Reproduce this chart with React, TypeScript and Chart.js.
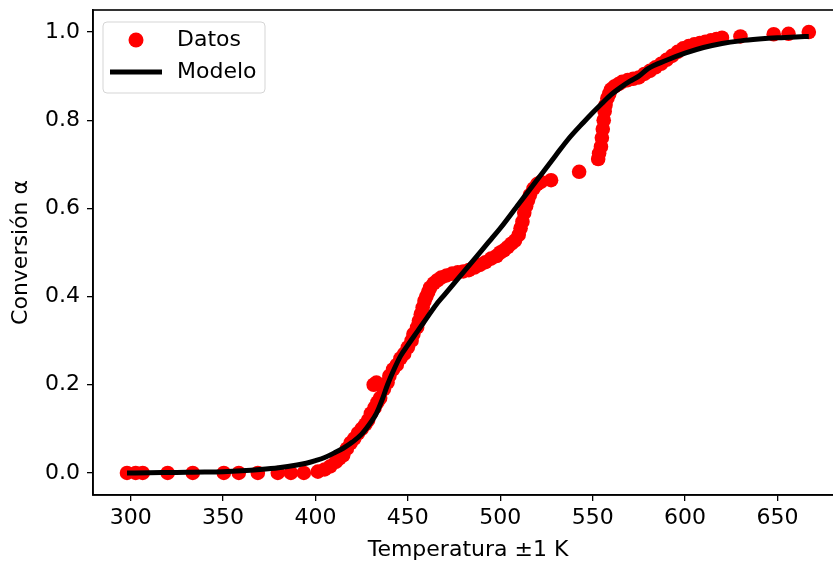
import React, { useEffect, useRef } from "react";
import { Chart, registerables } from "chart.js";
Chart.register(...registerables);

const seriesLabels = ["Datos", "Modelo"];
const xTitle = "Temperatura ±1 K";
const yTitle = "Conversión α";
const xTicks = [300, 350, 400, 450, 500, 550, 600, 650];
const yTicks = [0, 0.2, 0.4, 0.6, 0.8, 1.0];

const dataTemp = [
  298, 302.7, 306.5, 320, 333.6, 350.4, 358.5, 368.8, 379.6, 386.7, 393.7, 401.3,
  405, 408, 411, 413, 415, 417, 419, 421, 423, 425, 427, 428.5, 430, 432, 433.5,
  431.5, 433, 435, 437, 439, 440, 442, 444, 446, 448, 450, 452, 453, 455, 456, 457,
  458, 459, 460, 461, 462, 464, 466, 468, 471, 474, 477, 480, 483, 486, 489, 492,
  495, 498, 500, 502, 504, 506, 508, 510, 511, 512, 513, 514, 515, 516, 518, 520,
  522, 527.5, 542.7, 553, 553.5, 554.5, 555, 555.5, 556, 556.5, 557, 558, 559, 560,
  562, 564, 566, 569, 572, 575, 578, 581, 584, 587, 590, 593, 596, 599, 602, 605,
  608, 611, 614, 617, 620, 630, 648, 656, 667,
];
const dataAlpha = [
  0, 0, 0, 0, 0, 0, 0, 0, 0, 0, 0, 0.003,
  0.008, 0.015, 0.025, 0.033, 0.04, 0.055, 0.068, 0.078, 0.09, 0.1, 0.11, 0.12, 0.135, 0.148, 0.16,
  0.2, 0.205, 0.17, 0.19, 0.205, 0.22, 0.235, 0.245, 0.26, 0.27, 0.285, 0.3, 0.315, 0.33, 0.345, 0.36,
  0.375, 0.39, 0.4, 0.41, 0.42, 0.43, 0.437, 0.443, 0.448, 0.452, 0.455, 0.457, 0.46, 0.466, 0.472, 0.478,
  0.486, 0.492, 0.5, 0.505, 0.512, 0.52, 0.527, 0.54, 0.555, 0.57, 0.59, 0.605, 0.618, 0.63, 0.645, 0.655,
  0.66, 0.664, 0.683, 0.712, 0.725, 0.74, 0.76, 0.78, 0.8, 0.82, 0.835, 0.85, 0.86, 0.87,
  0.877, 0.882, 0.887, 0.891, 0.894, 0.897, 0.905, 0.912, 0.92, 0.928, 0.937, 0.946, 0.955, 0.963, 0.968, 0.972,
  0.975, 0.978, 0.981, 0.984, 0.987, 0.99, 0.995, 0.996, 1.0,
];

const modelTemp = [
  298, 310, 320, 330, 340, 350, 360, 370, 380, 390, 395, 400, 405, 410, 415, 420, 425,
  430, 433, 436, 439, 442, 446, 450, 455, 460, 465, 470, 475, 480, 485, 490, 495, 500,
  510, 520, 530, 537, 545, 550, 555, 560, 565, 570, 575, 580, 590, 600, 610, 620, 630,
  640, 650, 660, 667,
];
const modelAlpha = [
  0, 0.0005, 0.001, 0.0015, 0.002, 0.003, 0.005, 0.008, 0.012, 0.018, 0.022, 0.028, 0.035,
  0.045, 0.056, 0.07, 0.088, 0.115, 0.135, 0.165, 0.2, 0.23, 0.265, 0.29, 0.32, 0.35, 0.38,
  0.405, 0.43, 0.455, 0.48, 0.505, 0.53, 0.555, 0.61, 0.665, 0.72, 0.758, 0.795, 0.817,
  0.838, 0.858, 0.874, 0.888, 0.9, 0.917, 0.936, 0.952, 0.965, 0.974, 0.98, 0.984, 0.987,
  0.989, 0.99,
];

const FONT = "'DejaVu Sans', sans-serif";
const FS = 22;

const framePlugin = {
  id: "frame",
  afterDatasetsDraw(chart: any) {
    const { ctx, chartArea } = chart;
    ctx.save();
    ctx.strokeStyle = "#000";
    ctx.lineWidth = 1.6;
    ctx.strokeRect(chartArea.left, chartArea.top, chartArea.right - chartArea.left, chartArea.bottom - chartArea.top);
    ctx.restore();
  },
};

const legendPlugin = {
  id: "boxLegend",
  afterDraw(chart: any) {
    const { ctx, chartArea } = chart;
    const x = chartArea.left + 10;
    const y = chartArea.top + 12;
    const w = 162;
    const h = 71;
    const r = 4;
    ctx.save();
    ctx.beginPath();
    ctx.moveTo(x + r, y);
    ctx.arcTo(x + w, y, x + w, y + h, r);
    ctx.arcTo(x + w, y + h, x, y + h, r);
    ctx.arcTo(x, y + h, x, y, r);
    ctx.arcTo(x, y, x + w, y, r);
    ctx.closePath();
    ctx.fillStyle = "rgba(255,255,255,0.85)";
    ctx.fill();
    ctx.strokeStyle = "#d5d5d5";
    ctx.lineWidth = 1;
    ctx.stroke();

    ctx.fillStyle = "#ff0000";
    ctx.beginPath();
    ctx.arc(x + 33, y + 18, 7.5, 0, Math.PI * 2);
    ctx.fill();

    ctx.strokeStyle = "#000";
    ctx.lineWidth = 5;
    ctx.beginPath();
    ctx.moveTo(x + 7, y + 50);
    ctx.lineTo(x + 59, y + 50);
    ctx.stroke();

    ctx.fillStyle = "#000";
    ctx.font = `${FS}px ${FONT}`;
    ctx.textBaseline = "middle";
    ctx.textAlign = "left";
    ctx.fillText(seriesLabels[0], x + 74, y + 18);
    ctx.fillText(seriesLabels[1], x + 74, y + 50);
    ctx.restore();
  },
};

export default function App() {
  const ref = useRef<HTMLCanvasElement | null>(null);
  useEffect(() => {
    if (!ref.current) return;
    const chart = new Chart(ref.current, {
      type: "scatter",
      data: {
        datasets: [
          {
            type: "line",
            label: seriesLabels[1],
            data: modelTemp.map((t, i) => ({ x: t, y: modelAlpha[i] })),
            borderColor: "#000",
            borderWidth: 5,
            pointRadius: 0,
            fill: false,
            cubicInterpolationMode: "monotone",
            order: 0,
          } as any,
          {
            type: "scatter",
            label: seriesLabels[0],
            data: dataTemp.map((t, i) => ({ x: t, y: dataAlpha[i] })),
            backgroundColor: "#ff0000",
            borderWidth: 0,
            pointRadius: 7.3,
            order: 1,
          } as any,
        ],
      },
      options: {
        animation: false,
        responsive: false,
        devicePixelRatio: 1,
        layout: { padding: { left: 0, top: 10, right: 17, bottom: 0 } },
        plugins: { legend: { display: false }, tooltip: { enabled: false } },
        scales: {
          x: {
            type: "linear",
            min: 279.6,
            max: 685.5,
            afterFit: (s: any) => { s.height = 70; s.paddingLeft = 0; s.paddingRight = 0; },
            afterBuildTicks: (s: any) => { s.ticks = xTicks.map((v) => ({ value: v })); },
            grid: { drawOnChartArea: false, drawTicks: true, tickLength: 6, color: "#000", lineWidth: 1.3 },
            border: { display: true, color: "#000", width: 1.6 },
            ticks: { color: "#000", font: { family: FONT, size: FS }, padding: 4, maxRotation: 0, callback: (v: any) => String(v) },
            title: { display: true, text: xTitle, color: "#000", font: { family: FONT, size: FS }, padding: { top: 0, bottom: 2 } },
          },
          y: {
            type: "linear",
            min: -0.05,
            max: 1.05,
            afterFit: (s: any) => { s.width = 93; s.paddingTop = 0; s.paddingBottom = 0; },
            afterBuildTicks: (s: any) => { s.ticks = yTicks.map((v) => ({ value: v })); },
            grid: { drawOnChartArea: false, drawTicks: true, tickLength: 6, color: "#000", lineWidth: 1.3 },
            border: { display: true, color: "#000", width: 1.6 },
            ticks: { color: "#000", font: { family: FONT, size: FS }, padding: 7, callback: (v: any) => Number(v).toFixed(1) },
            title: { display: true, text: yTitle, color: "#000", font: { family: FONT, size: FS }, padding: { top: 8, bottom: 0 } },
          },
        },
      },
      plugins: [framePlugin, legendPlugin],
    });
    return () => chart.destroy();
  }, []);
  return (
    <div style={{ position: "fixed", left: 0, top: 0, width: 833, height: 565, overflow: "hidden", background: "#fff" }}>
      <canvas ref={ref} width={860} height={565} style={{ width: 860, height: 565, display: "block" }} />
    </div>
  );
}
